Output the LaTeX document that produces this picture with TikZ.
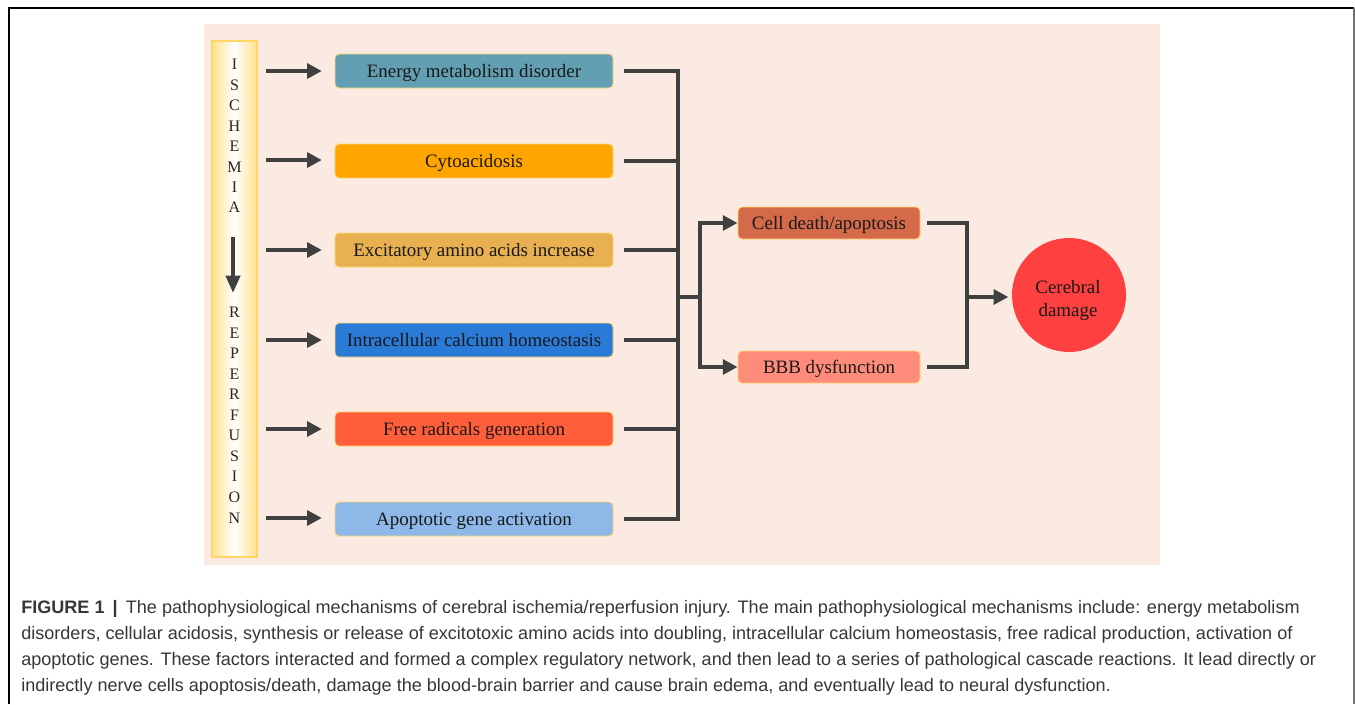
\documentclass[tikz,border=0pt]{standalone}
\usepackage{fontspec}
\setmainfont{Liberation Serif}
\newfontfamily\capfont{Liberation Sans}
\usetikzlibrary{arrows.meta}
\definecolor{bgpanel}{RGB}{251,234,225}
\definecolor{lineg}{RGB}{64,64,64}
\definecolor{boxedge}{RGB}{255,214,110}
\definecolor{barside}{RGB}{255,224,140}
\definecolor{baredge}{RGB}{255,215,100}
\definecolor{cA}{RGB}{98,159,179}
\definecolor{cB}{RGB}{255,165,0}
\definecolor{cC}{RGB}{232,176,80}
\definecolor{cD}{RGB}{42,122,216}
\definecolor{cE}{RGB}{255,94,58}
\definecolor{cF}{RGB}{141,184,232}
\definecolor{cG}{RGB}{212,106,74}
\definecolor{cH}{RGB}{255,140,122}
\definecolor{cI}{RGB}{255,64,64}
\definecolor{captxt}{RGB}{55,55,55}
\begin{document}
\begin{tikzpicture}[x=0.75pt,y=-0.75pt,
  mbox/.style={draw=boxedge, line width=0.7pt, rounded corners=3pt, minimum width=208.5pt, minimum height=25.5pt, inner sep=0pt, text height=9.7pt, text depth=0pt, font=\fontsize{14.2}{16}\selectfont, text=black!90},
  rbox/.style={mbox, minimum width=136.5pt, minimum height=24pt},
  conn/.style={line width=3pt, draw=lineg},
  arr/.style={conn, -{Triangle[length=11pt,width=11pt]}},
  letter/.style={font=\fontsize{12}{12}\selectfont, text=black!85, inner sep=0pt},
  capline/.style={anchor=base west, inner sep=0pt, text=captxt, font=\capfont\fontsize{13.55}{15}\selectfont}
]
\useasboundingbox (0,0) rectangle (1355,704);
\fill[white] (0,0) rectangle (1355,704);
% frame
\draw[line width=1.2pt, black] (9,704) -- (9,8) -- (1354,8);
\draw[line width=1.5pt, black!55] (1354,8) -- (1354,704);
% panel
\fill[bgpanel] (204,24) rectangle (1160,565);
% left bar
\shade[left color=barside, right color=barside, middle color=white] (212,41) rectangle (257,557);
\draw[baredge, line width=1pt] (212,41) rectangle (257,557);
\foreach \t/\yy [count=\i] in {I/64,S/85,C/105,H/126,E/146,M/167,I/187,A/207,R/312,E/333,P/353,E/374,R/394,F/415,U/435,S/456,I/476,O/497,N/518}
  \node[letter] (L\i) at (234.5,\yy) {\t};
\coordinate (va) at (233,237);
\coordinate (vb) at (233,293);
\draw[conn, -{Triangle[length=13pt,width=10.5pt]}] (va) -- (vb);
% mechanism boxes
\node[mbox, fill=cA] (b1) at (474,71) {Energy metabolism disorder};
\node[mbox, fill=cB] (b2) at (474,161) {Cytoacidosis};
\node[mbox, fill=cC] (b3) at (474,250) {Excitatory amino acids increase};
\node[mbox, fill=cD] (b4) at (474,340) {Intracellular calcium homeostasis};
\node[mbox, fill=cE] (b5) at (474,429) {Free radicals generation};
\node[mbox, fill=cF] (b6) at (474,519) {Apoptotic gene activation};
% input arrows
\coordinate (s1) at (266,71);
\coordinate (s2) at (266,160);
\coordinate (s3) at (266,250);
\coordinate (s4) at (266,340);
\coordinate (s5) at (266,429);
\coordinate (s6) at (266,518);
\foreach \i in {1,...,6}
  \draw[arr, shorten >=9.5pt] (s\i) -- (s\i -| b\i.west);
% junctions
\coordinate (j) at (678,297);
\coordinate (j2) at (700,297);
\coordinate (k) at (967,297);
\node[rbox, fill=cG] (cd) at (829,223) {Cell death/apoptosis};
\node[rbox, fill=cH] (bbb) at (829,367) {BBB dysfunction};
\node[circle, fill=cI, minimum size=85.5pt, inner sep=0pt] (dmg) at (1069,295) {};
\node[align=center, font=\fontsize{14.2}{17.25}\selectfont, text=black!90, inner sep=0pt] (dmgt) at (1068,300) {Cerebral\\damage};
% trunk
\draw[conn] ([xshift=8pt]b1.east) -| (j |- b6.east) -- ([xshift=8pt]b6.east);
\foreach \i in {2,...,5}
  \draw[conn] ([xshift=8pt]b\i.east) -- (j |- b\i.east);
\draw[conn] (j) -- (j2);
\draw[arr] (j2) |- (cd.west);
\draw[arr] (j2) |- (bbb.west);
\draw[conn] ([xshift=5pt]cd.east) -| (k) |- ([xshift=5pt]bbb.east);
\draw[arr, shorten >=2.5pt] (k) -- (k -| dmg.west);
% caption
\node[capline] (c1) at (21,613) {\textbf{FIGURE 1}\hspace{0.45em}\textbf{|}\hspace{0.45em}The pathophysiological mechanisms of cerebral ischemia/reperfusion injury. The main pathophysiological mechanisms include: energy metabolism};
\node[capline] (c2) at (21,639) {disorders, cellular acidosis, synthesis or release of excitotoxic amino acids into doubling, intracellular calcium homeostasis, free radical production, activation of};
\node[capline] (c3) at (21,665) {apoptotic genes. These factors interacted and formed a complex regulatory network, and then lead to a series of pathological cascade reactions. It lead directly or};
\node[capline] (c4) at (21,691) {indirectly nerve cells apoptosis/death, damage the blood-brain barrier and cause brain edema, and eventually lead to neural dysfunction.};
\end{tikzpicture}
\end{document}
